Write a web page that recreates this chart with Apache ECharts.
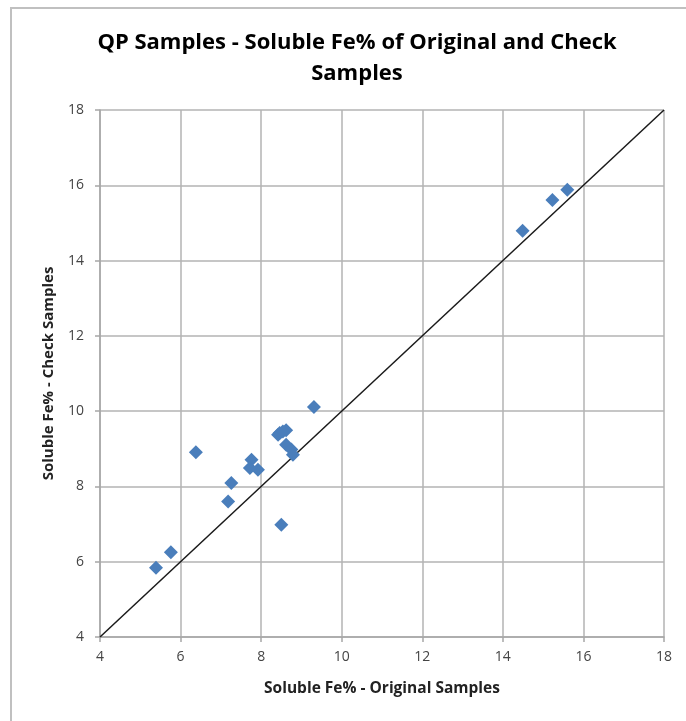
<!DOCTYPE html>
<html>
<head>
<meta charset="utf-8">
<script src="https://cdn.jsdelivr.net/npm/echarts@6/dist/echarts.min.js"></script>
<style>html,body{margin:0;padding:0;background:#fff;}#c{width:686px;height:721px;}</style>
</head>
<body>
<div id="c"></div>
<script>
var titleText = 'QP Samples - Soluble Fe% of Original and Check\nSamples';
var xAxisTitle = 'Soluble Fe% - Original Samples';
var yAxisTitle = 'Soluble Fe% - Check Samples';
var originalFe = [5.39, 5.76, 6.38, 7.18, 7.26, 7.76, 7.72, 7.92, 8.50, 8.42, 8.46, 8.62, 8.54, 8.62, 8.75, 8.79, 9.31, 14.49, 15.23, 15.60];
var checkFe =    [5.84, 6.25, 8.91, 7.60, 8.09, 8.71, 8.49, 8.44, 6.98, 9.37, 9.42, 9.49, 9.46, 9.11, 8.98, 8.84, 10.11, 14.79, 15.61, 15.88];
var refLineX = [4, 18];
var refLineY = [4, 18];
var axisMin = 4, axisMax = 18, axisStep = 2;

var pts = originalFe.map(function(v, i){ return [v, checkFe[i]]; });
var line = refLineX.map(function(v, i){ return [v, refLineY[i]]; });
var font = '"Open Sans", Lato, sans-serif';

var chart = echarts.init(document.getElementById('c'));
chart.setOption({
  animation: false,
  backgroundColor: '#fff',
  title: {
    text: titleText, left: 352, top: 22, textAlign: 'center',
    textStyle: { fontFamily: font, fontWeight: 'bold', fontSize: 22, color: '#000', lineHeight: 31 }
  },
  graphic: [{
    type: 'rect', shape: { x: 11, y: 8, width: 700, height: 720 },
    style: { fill: null, stroke: '#c0c0c0', lineWidth: 2 }, silent: true
  }],
  grid: { left: 100, right: 22, top: 110, bottom: 84 },
  xAxis: {
    type: 'value', min: axisMin, max: axisMax, interval: axisStep,
    name: xAxisTitle, nameLocation: 'middle', nameGap: 44,
    nameTextStyle: { fontFamily: font, fontWeight: 'bold', fontSize: 15.5, color: '#222' },
    axisLine: { show: true, lineStyle: { color: '#a6a6a6', width: 1.5 } },
    axisTick: { show: true, length: 5, lineStyle: { color: '#a6a6a6', width: 1.5 } },
    axisLabel: { fontFamily: font, fontSize: 14, color: '#444', margin: 13 },
    splitLine: { show: true, lineStyle: { color: '#b3b3b3', width: 1.5 } }
  },
  yAxis: {
    type: 'value', min: axisMin, max: axisMax, interval: axisStep,
    name: yAxisTitle, nameLocation: 'middle', nameGap: 44, nameRotate: 90,
    nameTextStyle: { fontFamily: font, fontWeight: 'bold', fontSize: 15, color: '#222' },
    axisLine: { show: true, lineStyle: { color: '#a6a6a6', width: 1.5 } },
    axisTick: { show: true, length: 5, lineStyle: { color: '#a6a6a6', width: 1.5 } },
    axisLabel: { fontFamily: font, fontSize: 14, color: '#444', margin: 16 },
    splitLine: { show: true, lineStyle: { color: '#b3b3b3', width: 1.5 } }
  },
  series: [
    {
      type: 'line', data: line, symbol: 'none', silent: true,
      lineStyle: { color: '#1a1a1a', width: 1.5 }, z: 2
    },
    {
      type: 'scatter', data: pts, symbol: 'diamond', symbolSize: 14,
      itemStyle: { color: '#4a7ebb', opacity: 1 }, z: 3
    }
  ]
});
</script>
</body>
</html>
